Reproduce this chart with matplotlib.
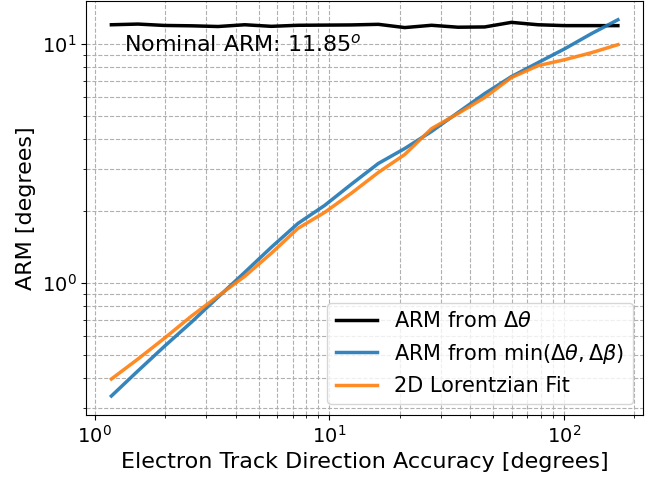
import matplotlib
matplotlib.use("Agg")
import matplotlib.pyplot as plt

x_acc = [1.18, 1.53, 1.99, 2.59, 3.36, 4.37, 5.67, 7.37, 9.57, 12.4,
         16.2, 21.0, 27.3, 35.4, 46.0, 59.8, 77.7, 101, 131, 170]
arm_theta = [12.00, 12.08, 11.92, 11.88, 11.80, 12.00, 11.82, 11.94, 11.96, 11.98,
             12.05, 11.68, 11.94, 11.72, 11.75, 12.28, 12.00, 11.90, 11.90, 11.90]
arm_min = [0.338, 0.430, 0.546, 0.688, 0.874, 1.111, 1.413, 1.778, 2.113, 2.585,
           3.162, 3.652, 4.30, 5.16, 6.19, 7.29, 8.34, 9.53, 11.01, 12.59]
arm_lor = [0.398, 0.482, 0.590, 0.729, 0.883, 1.069, 1.334, 1.695, 1.976, 2.371,
           2.90, 3.447, 4.42, 5.11, 5.96, 7.22, 8.10, 8.58, 9.17, 9.91]

fig = plt.figure(figsize=(6.57, 4.79), dpi=100)
ax = fig.add_axes([0.131, 0.134, 0.848, 0.864])

ax.plot(x_acc, arm_theta, color="black", lw=2.5, label=r"ARM from $\Delta\theta$")
ax.plot(x_acc, arm_min, color="#1f77b4", lw=2.5, alpha=0.9,
        label=r"ARM from min($\Delta\theta, \Delta\beta$)")
ax.plot(x_acc, arm_lor, color="#ff7f0e", lw=2.5, alpha=0.9, label="2D Lorentzian Fit")

ax.set_xscale("log")
ax.set_yscale("log")
ax.grid(True, which="both", ls="--", color="#b0b0b0", lw=0.8)
ax.text(1.33, 9.25, r"Nominal ARM: 11.85$^o$", fontsize=16, va="baseline")
ax.set_xlabel("Electron Track Direction Accuracy [degrees]", fontsize=16)
ax.set_ylabel("ARM [degrees]", fontsize=16)
ax.tick_params(axis="both", which="major", labelsize=14)
ax.legend(loc="lower right", fontsize=15)

fig.savefig("out.png", dpi=100)
